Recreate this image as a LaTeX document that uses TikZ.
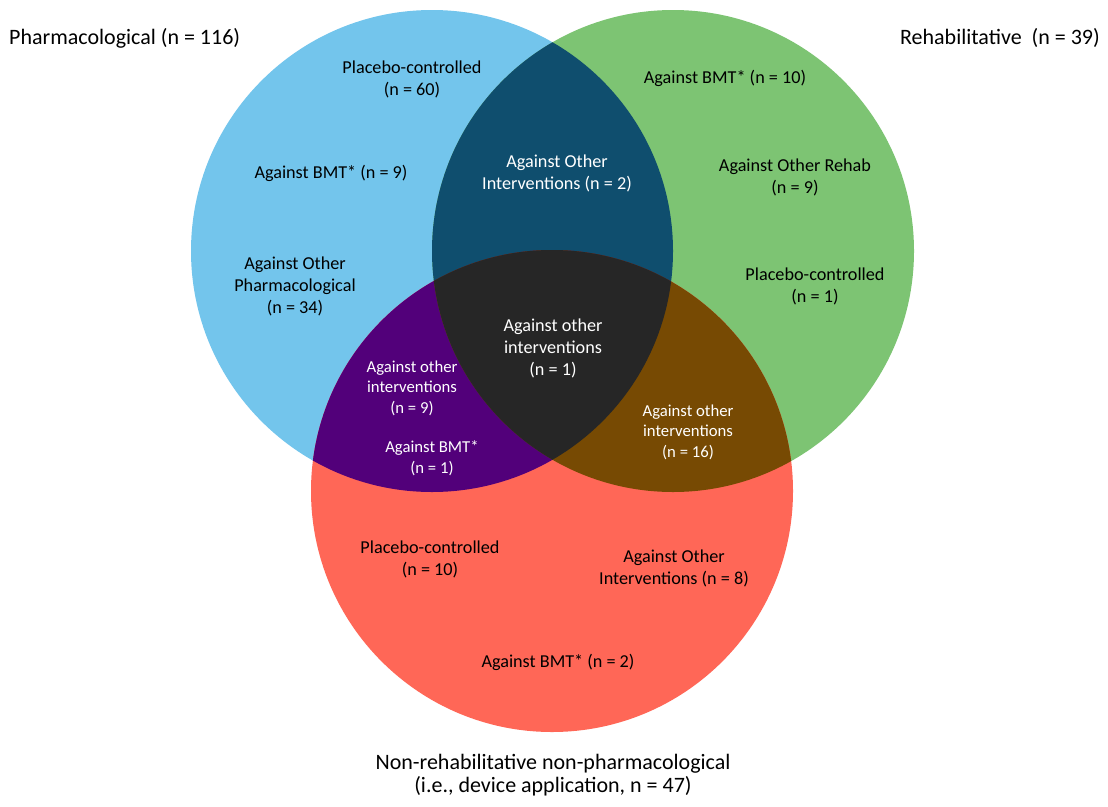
\documentclass[tikz,border=0pt]{standalone}
\usepackage{fontspec}
\setmainfont{Carlito}
\definecolor{cblue}{HTML}{73C5EC}
\definecolor{cgreen}{HTML}{7DC473}
\definecolor{cred}{HTML}{FF6757}
\definecolor{cbg}{HTML}{0F4E6E}
\definecolor{cbr}{HTML}{52007A}
\definecolor{cgr}{HTML}{774A03}
\definecolor{cmid}{HTML}{262626}
\tikzset{
  lbl/.style={align=center,inner sep=0pt,font=\fontsize{18.2}{22}\selectfont},
  wlbl/.style={lbl,text=white},
  slbl/.style={align=center,inner sep=0pt,text=white,font=\fontsize{16.7}{20.5}\selectfont},
  title/.style={inner sep=0pt,align=center,font=\fontsize{22}{23}\selectfont}
}
\begin{document}
\begin{tikzpicture}[x=1pt,y=-1pt]
\useasboundingbox (0,0) rectangle (1108,806);
\coordinate (B) at (432,251);
\coordinate (G) at (673,251);
\coordinate (R) at (552,491);
\def\rr{241}
\fill[cblue] (B) circle[radius=\rr];
\fill[cgreen] (G) circle[radius=\rr];
\fill[cred] (R) circle[radius=\rr];
\begin{scope}
  \clip (B) circle[radius=\rr];
  \fill[cbg] (G) circle[radius=\rr];
  \fill[cbr] (R) circle[radius=\rr];
\end{scope}
\begin{scope}
  \clip (G) circle[radius=\rr];
  \fill[cgr] (R) circle[radius=\rr];
  \clip (B) circle[radius=\rr];
  \fill[cmid] (R) circle[radius=\rr];
\end{scope}
% titles
\node[title,anchor=west] (tp) at (9,38) {Pharmacological (n = 116)};
\node[title,anchor=east] (tr) at (1100,38) {Rehabilitative\ \ (n = 39)};
\node[title] (tn) at (553,775) {Non-rehabilitative non-pharmacological\\(i.e., device application, n = 47)};
% blue
\node[lbl] (b1) at (412,79) {Placebo-controlled\\(n = 60)};
\node[lbl] (b2) at (331,173) {Against BMT* (n = 9)};
\node[lbl] (b3) at (295,286) {Against Other\\Pharmacological\\(n = 34)};
% blue-green
\node[wlbl] (bg) at (557,173) {Against Other\\Interventions (n = 2)};
% green
\node[lbl] (g1) at (725,78) {Against BMT* (n = 10)};
\node[lbl] (g2) at (795,177) {Against Other Rehab\\(n = 9)};
\node[lbl] (g3) at (815,286) {Placebo-controlled\\(n = 1)};
% centre
\node[wlbl] (c) at (553,348) {Against other\\interventions\\(n = 1)};
% blue-red
\node[slbl] (br1) at (412,388) {Against other\\interventions\\(n = 9)};
\node[slbl] (br2) at (432,458) {Against BMT*\\(n = 1)};
% green-red
\node[slbl] (gr) at (688,432) {Against other\\interventions\\(n = 16)};
% red
\node[lbl] (r1) at (430,559) {Placebo-controlled\\(n = 10)};
\node[lbl] (r2) at (674,568) {Against Other\\Interventions (n = 8)};
\node[lbl] (r3) at (558,662) {Against BMT* (n = 2)};
\end{tikzpicture}
\end{document}
